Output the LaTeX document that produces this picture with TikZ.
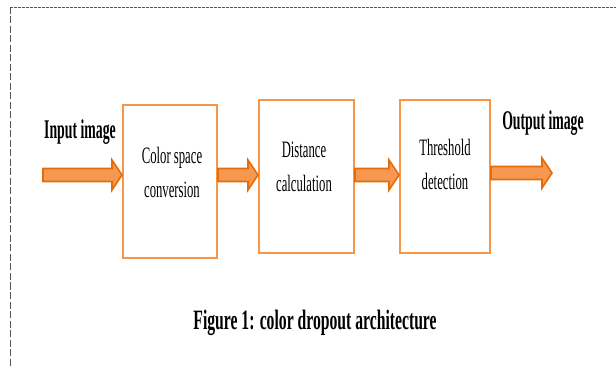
\documentclass[tikz,border=0pt]{standalone}
\usepackage{fontspec}
\usetikzlibrary{calc}
\newfontfamily\condreg[FakeStretch=0.54]{Liberation Serif}
\newfontfamily\condbold[FakeStretch=0.51]{Liberation Serif Bold}
\newfontfamily\condcap[FakeStretch=0.56]{Liberation Serif Bold}
\definecolor{boxorange}{RGB}{247,150,70}
\definecolor{arrowdark}{RGB}{228,108,10}
\definecolor{arrowlight}{RGB}{246,152,80}
\definecolor{framegray}{RGB}{85,85,85}
\begin{document}
\begin{tikzpicture}[x=1pt,y=-1pt,
  stage/.style={draw=boxorange, line width=2pt, minimum width=#1, minimum height=153pt, inner sep=0pt},
  stagetext/.style={font=\condreg\fontsize{23.5}{34}\selectfont, align=center, inner sep=0pt},
  biglabel/.style={font=\condbold\fontsize{27}{30}\selectfont, inner sep=0pt},
  blockarrow/.style={fill=arrowlight, draw=arrowdark, line width=1.6pt, line join=miter,
    to path={let \p1=(\tikztostart), \p2=(\tikztotarget) in
      (\x1,\y1-6.5pt) -- (\x2-10pt,\y1-6.5pt) -- (\x2-10pt,\y1-15pt) -- (\x2,\y1)
      -- (\x2-10pt,\y1+15pt) -- (\x2-10pt,\y1+6.5pt) -- (\x1,\y1+6.5pt) -- cycle}}
]
\useasboundingbox (0,0) rectangle (616,366);
\clip (0,0) rectangle (616,366);
\fill[white] (0,0) rectangle (616,366);
% dashed frame
\draw[framegray, line width=0.7pt, dash pattern=on 3pt off 1pt] (10,7) -- (640,7);
\draw[framegray, line width=0.7pt, dash pattern=on 7pt off 2.5pt] (10,7) -- (10,390);

% boxes
\node[stage=94pt] (b1) at (170,181.5) {};
\node[stage=95pt] (b2) at (306.5,176.5) {};
\node[stage=90pt] (b3) at (445,176.5) {};

\node[stagetext] (t1) at (172,172.5) {Color space\\conversion};
\node[stagetext] (t2) at (304,166.5) {Distance\\calculation};
\node[stagetext] (t3) at (445,164.5) {Threshold\\detection};

% free ends
\coordinate (in) at (43,175);
\coordinate (out) at (552,173);

% arrows
\path[blockarrow] (in) to (b1.west |- in);
\path[blockarrow] (b1.east |- in) to (b2.west |- in);
\path[blockarrow] (b2.east |- in) to (b3.west |- in);
\path[blockarrow] (b3.east |- out) to (out);

% labels
\node[biglabel] (lin) at (80,132) {Input image};
\node[biglabel] (lout) at (543,123) {Output image};
\node[inner sep=0pt, font=\condcap\fontsize{28}{32}\selectfont] (cap) at (315,323) {Figure 1: color dropout architecture};
\end{tikzpicture}
\end{document}
